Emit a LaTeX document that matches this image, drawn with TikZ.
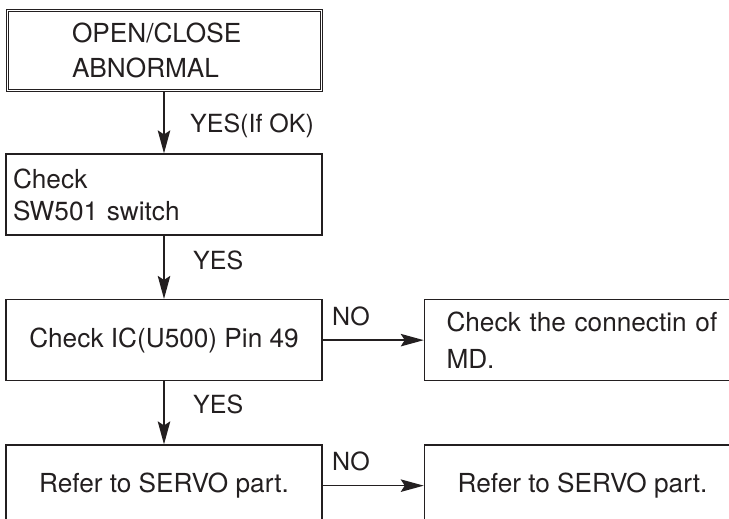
\documentclass[tikz,border=0pt]{standalone}
\usepackage{fontspec}
\setmainfont{TeX Gyre Heros}
\usepackage{xcolor}
\usetikzlibrary{arrows.meta}
\usetikzlibrary{positioning}

\definecolor{inkline}{RGB}{35,31,32}

\tikzset{
  flowbox/.style={draw=inkline, line width=1.5pt, rectangle, inner sep=0pt,
    minimum width=316pt, minimum height=81pt, text=inkline,
    font=\fontsize{26.2}{32}\selectfont},
  leftbox/.style={flowbox, align=left, text width=#1},
  flowarrow/.style={draw=inkline, line width=1.5pt,
    -{Stealth[length=23pt, width=12.5pt, inset=4pt]}},
  flowlabel/.style={inner sep=0pt, anchor=base west, text=inkline,
    font=\fontsize{25}{28}\selectfont}
}

\begin{document}
\begin{tikzpicture}[x=1pt, y=-1pt]
        \useasboundingbox (0, 0) rectangle (729, 519);
        \clip (0, 0) rectangle (729, 519);

        % left column
        \node[leftbox=184pt, inner xsep=66pt, minimum height=82pt,
            line width=0.8pt, font=\fontsize{26.2}{35}\selectfont]
            (open) at (164, 50) {OPEN/CLOSE\\ABNORMAL};
        \draw[inkline, line width=0.9pt]
            ([shift={(2.4, 2.4)}]open.north west)
            rectangle ([shift={(-2.4, -2.4)}]open.south east);
        \node[leftbox=302pt, inner xsep=7pt, below=62pt of open] (checksw)
            {Check\\SW501 switch};
        \node[flowbox, below=63pt of checksw] (checkpin)
            {Check IC(U500) Pin 49};
        \node[flowbox, below=63pt of checkpin] (servoa)
            {Refer to SERVO part.};

        % right column
        \node[leftbox=290pt, inner xsep=22pt, font=\fontsize{26.2}{37}\selectfont,
            right=101pt of checkpin] (checkmd)
            {Check the connectin of\\MD.};
        \node[flowbox, right=101pt of servoa] (servob)
            {Refer to SERVO part.};

        % connectors
        \draw[flowarrow] (open) -- (checksw);
        \draw[flowarrow] (checksw) -- (checkpin);
        \draw[flowarrow] (checkpin) -- (servoa);
        \draw[flowarrow] (checkpin) -- (checkmd);
        \draw[flowarrow] (servoa) -- (servob);

        % labels
        \node[flowlabel] (yesok) at (190, 132) {YES(If OK)};
        \node[flowlabel] (yespin) at (193, 269) {YES};
        \node[flowlabel] (yesservo) at (193, 413) {YES};
        \node[flowlabel] (nomd) at (332, 325) {NO};
        \node[flowlabel] (noservo) at (332, 470) {NO};
    \end{tikzpicture}
\end{document}
